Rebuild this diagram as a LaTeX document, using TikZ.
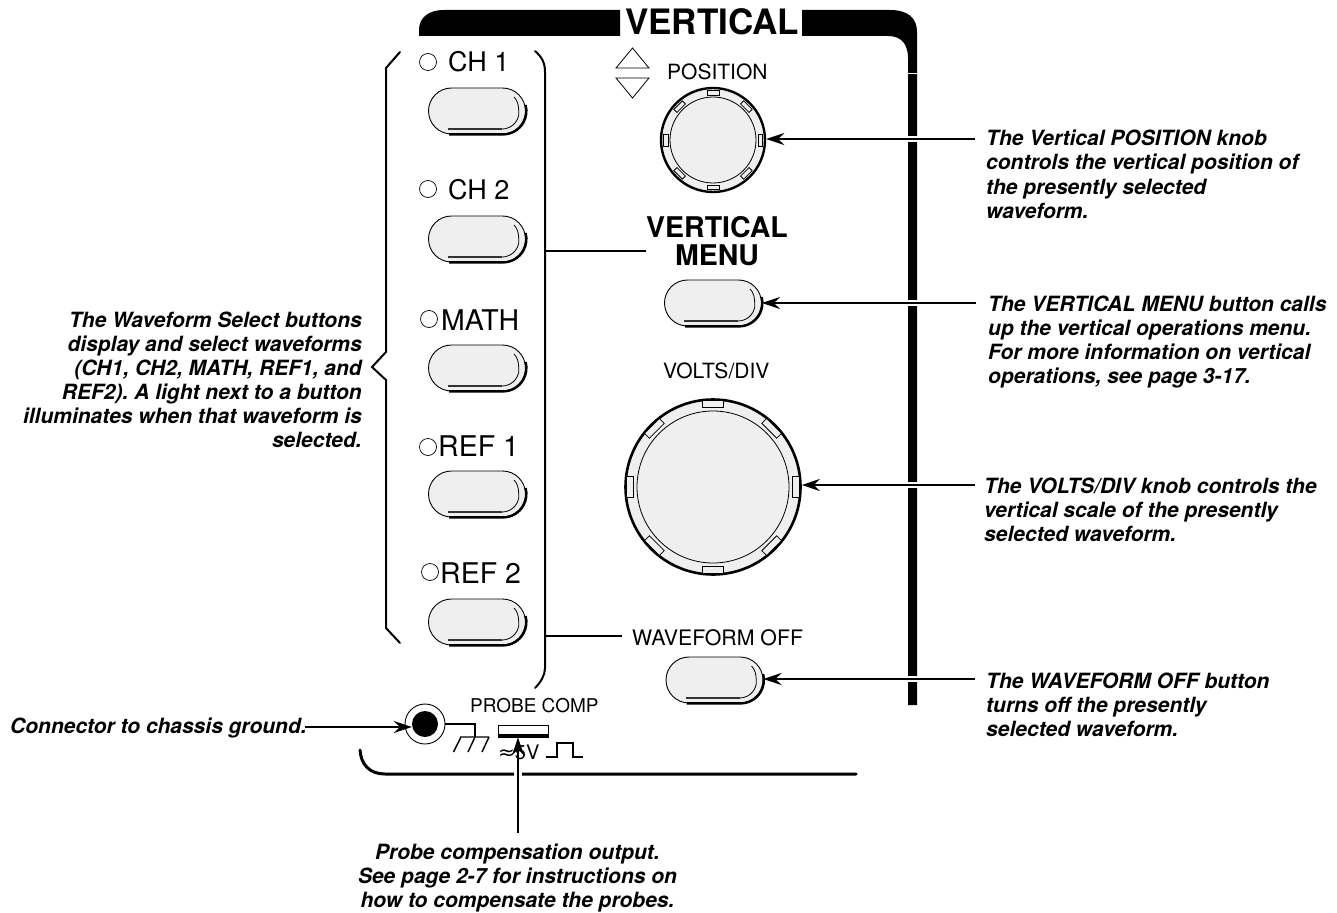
\documentclass[tikz,border=0pt]{standalone}
\usepackage{fontspec}
\setmainfont{TeX Gyre Heros}
\newfontfamily\symfont{DejaVu Sans}
\usetikzlibrary{arrows.meta,shapes.misc}
\definecolor{panelgrey}{HTML}{EFEFEF}
\newcommand{\fs}[1]{\fontsize{#1}{#1}\selectfont}
\newcommand{\notefont}{\fontsize{21}{24}\selectfont\bfseries\itshape\frenchspacing}
\tikzset{
  x=1pt,y=-1pt,
  note/.style={font=\notefont,inner sep=0pt,anchor=base west,align=left},
  notel/.style={font=\notefont,inner sep=0pt,anchor=base east,align=right},
  notec/.style={font=\notefont,inner sep=0pt,anchor=base,align=center},
  lab/.style={inner sep=0pt,anchor=base west},
  btn/.style={rounded rectangle,draw=black,fill=panelgrey,line width=0.9pt,minimum width=97pt,minimum height=46pt,inner sep=0pt},
  lamp/.style={circle,draw=black,line width=0.7pt,fill=white,minimum size=17pt,inner sep=0pt},
  arr/.style={-{Stealth[length=18pt,width=12pt,inset=6pt]},line width=2.2pt,black},
  halo/.style={white,line width=6pt},
  lead/.style={line width=1.8pt,black},
  brace/.style={line width=2pt,black,line cap=round},
  thin1/.style={line width=0.8pt,black},
}
\newcommand{\button}[3]{%
  \node[btn] (#1) at (#2,#3) {};
  \draw[line width=2.4pt,black] (#2-28,#3+23.4) -- (#2+26,#3+23.4) arc[start angle=90,end angle=-15,radius=23.4];
  \draw[line width=1.6pt,black!80] (#2-29,#3+18) -- (#2+25,#3+18);
  \draw[thin1] (#2+25,#3+18) arc[start angle=90,end angle=10,radius=17] .. controls (#2+42,#3-7) and (#2+40,#3-11) .. (#2+37,#3-14);
}
\newcommand{\knobtab}[5]{%
  \draw[thin1,fill=panelgrey,rotate around={#1:(#2,#3)}] (#2+#4-0.5,#3-#5/2) rectangle (#2+#4+0.5+#5*0.28,#3+#5/2);
}
\begin{document}
\begin{tikzpicture}
\useasboundingbox (0,0) rectangle (1337,912);
% panel frame
\fill[black] (419,36) -- (419,30) .. controls (419,18) and (428,10) .. (444,10) -- (620,10) -- (620,36) -- cycle;
\fill[black] (802,36) -- (802,10) -- (890,10) .. controls (908,10) and (917,18) .. (917,32) -- (917,705) -- (908,705) -- (908,58) .. controls (908,45) and (902,36) .. (888,36) -- cycle;
\fill[white] (905,73) rectangle (920,74);
\node[lab,font=\fs{35}\bfseries] (title) at (625,35) {VERTICAL};
% brace
\draw[brace] (400,52) -- (386,68) -- (386,352) -- (372,367) -- (386,380) -- (386,628) -- (400,643);
\coordinate (bracer) at (545,360);
\draw[brace] (535,51) .. controls (542,57) and (545,63) .. (545,72) -- (545,668) .. controls (545,675) and (541,682) .. (535,688);
% left column
\node[lamp] (l1) at (428,62) {};
\node[lab,font=\fs{27}] (t1) at (448,72) {CH 1};
\node[lamp] (l2) at (428,189) {};
\node[lab,font=\fs{27}] (t2) at (448,199) {CH 2};
\node[lamp] (l3) at (429,319) {};
\node[lab,font=\fs{28.5}] (t3) at (441,330) {MATH};
\node[lamp] (l4) at (428,447) {};
\node[lab,font=\fs{28.5}] (t4) at (438,456) {REF 1};
\node[lamp] (l5) at (430,572) {};
\node[lab,font=\fs{28.5}] (t5) at (440,583) {REF 2};
\button{b1}{477}{111}
\button{b2}{477}{239}
\button{b3}{477}{368}
\button{b4}{477}{494}
\button{b5}{477}{622}
% position
\draw[thin1] (616,68) -- (649,68) -- (632.5,48) -- cycle;
\draw[thin1] (616,78) -- (649,78) -- (632.5,98) -- cycle;
\node[lab,font=\fs{21}] (pos) at (667,80) {POSITION};
% knob 1
\node[circle,draw=black,fill=panelgrey,line width=2.4pt,minimum size=104pt,inner sep=0pt] (knob1) at (713,140) {};
\foreach \a in {0,45,...,315} {\knobtab{\a}{713}{140}{45.5}{12}}
\draw[thin1] (713,140) circle[radius=43];
% vertical menu
\node[inner sep=0pt,align=center,font=\fontsize{28.5}{28}\selectfont\bfseries,anchor=base] (vm) at (717,265) {VERTICAL\\MENU};
\coordinate (vmleft) at (646,251);
\draw[lead] (bracer|-vmleft) -- (vmleft);
\button{bm}{713}{303}
% volts
\node[lab,font=\fs{21}] (volts) at (663,378) {VOLTS/DIV};
\node[circle,draw=black,fill=panelgrey,line width=2.6pt,minimum size=175pt,inner sep=0pt] (knob2) at (713,487) {};
\foreach \a in {0,45,...,315} {\knobtab{\a}{713}{487}{80}{21}}
\draw[thin1] (713,487) circle[radius=76];
% waveform off
\node[lab,font=\fs{21.3}] (wo) at (632,645) {WAVEFORM OFF};
\coordinate (woleft) at (622,636);
\draw[lead] (bracer|-woleft) -- (woleft);
\button{bw}{714.5}{680}
% ground and probe comp
\node[circle,draw=black,fill=white,line width=0.9pt,minimum size=40pt,inner sep=0pt] (jack) at (425,724) {};
\node[circle,fill=black,minimum size=26pt,inner sep=0pt] (hole) at (425,724) {};
\coordinate (gndtop) at (475,724);
\coordinate (gndbar) at (475,737);
\draw[lead,line width=1.4pt] (jack.east) -- (gndtop) -- (gndbar);
\draw[lead,line width=1.4pt] (460,737) -- (489,737) (461,737) -- (453.5,752) (gndbar) -- (468,752) (489,737) -- (482,752);
\node[lab,font=\fs{19}] (pc) at (470,712) {PROBE COMP};
\node[draw=black,fill=white,line width=1.6pt,minimum width=50pt,minimum height=11pt,inner sep=0pt] (pr) at (523.5,731) {};
\fill[black] (498,733.5) rectangle (549,737.5);
\node[lab,font=\fs{20}] (five) at (498,759) {{\symfont ≈}5V};
\draw[lead,line width=1.4pt] (546,757) -- (557,757) -- (557,743) -- (573,743) -- (573,757) -- (583,757);
\draw[line width=3pt,black,line cap=round] (360,750) .. controls (361,765) and (370,774) .. (385,774) -- (856,774);
% notes
\node[note] (n1) at (986,218) {The Vertical POSITION knob\\controls the vertical position of\\the presently selected\\waveform.};
\node[note] (n2) at (988,383) {The VERTICAL MENU button calls\\up the vertical operations menu.\\For more information on vertical\\operations, see page 3-17.};
\node[note] (n3) at (984,541) {The VOLTS/DIV knob controls the\\vertical scale of the presently\\selected waveform.};
\node[note] (n4) at (986,736) {The WAVEFORM OFF button\\turns off the presently\\selected waveform.};
\node[notel] (n5) at (362,447) {The Waveform Select buttons\\display and select waveforms\\(CH1, CH2, MATH, REF1, and\\REF2). A light next to a button\\illuminates when that waveform is\\selected.};
\node[note] (n6) at (10,733) {Connector to chassis ground.};
\node[notec] (n7) at (517.5,907) {Probe compensation output.\\See page 2-7 for instructions on\\how to compensate the probes.};
% arrows
\coordinate (a1) at (975,139);
\coordinate (a2) at (976,303);
\coordinate (a3) at (975,485);
\coordinate (a4) at (975,679);
\coordinate (a5) at (305,727);
\coordinate (a6) at (518,833);
\foreach \yy in {139,303,485,679} {\draw[halo] (905,\yy) -- (920,\yy);}
\draw[arr] (a1) -- (knob1.east|-a1);
\draw[arr] (a2) -- (bm.east);
\draw[arr] (a3) -- (knob2.east|-a3);
\draw[arr] (a4) -- (bw.east|-a4);
\draw[arr] (a5) -- (hole.west|-a5);
\draw[white,line width=8pt] (518,771) -- (518,777);
\draw[arr] (a6) -- (pr.south-|a6);
\end{tikzpicture}
\end{document}
